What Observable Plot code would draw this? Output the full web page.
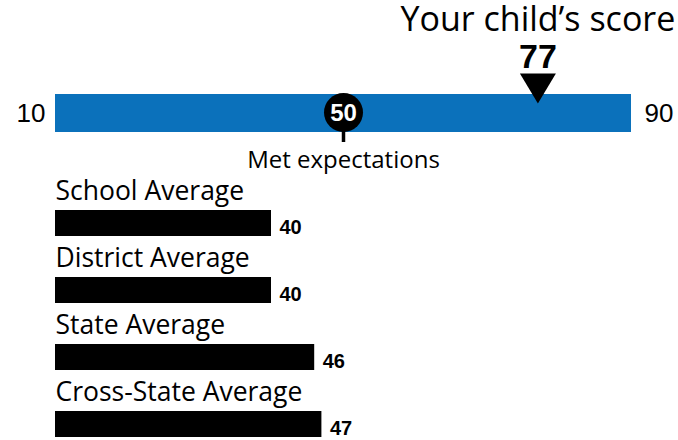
<!DOCTYPE html>
<html>
<head>
<meta charset="utf-8">
<script src="https://cdn.jsdelivr.net/npm/d3@7"></script>
<script src="https://cdn.jsdelivr.net/npm/@observablehq/plot@0.6"></script>
<style>
  html, body { margin: 0; padding: 0; background: #fff; }
  #chart svg { display: block; overflow: visible; }
</style>
</head>
<body>
<div id="chart"></div>
<script>
const scoreMin = 10;
const scoreMax = 90;
const childScore = 77;
const childLabel = "Your child’s score";
const expectationScore = 50;
const expectationLabel = "Met expectations";
const groups = ["School Average", "District Average", "State Average", "Cross-State Average"];
const averages = [40, 40, 46, 47];

const rows = groups.map((g, i) => ({group: g, value: averages[i]}));
const sans = "'Open Sans', sans-serif";
const arial = "'Liberation Sans', Arial, sans-serif";

const downTriangle = {
  draw(context, size) {
    const r = Math.sqrt(size / Math.PI);
    const hw = r * 1.2;
    context.moveTo(-hw, -r);
    context.lineTo(hw, -r);
    context.lineTo(0, r);
    context.closePath();
  }
};

const scorePlot = Plot.plot({
  width: 678, height: 178,
  marginTop: 94, marginBottom: 46, marginLeft: 55, marginRight: 47,
  x: {domain: [scoreMin, scoreMax], axis: null},
  style: {fontFamily: sans, background: "white", color: "black", overflow: "visible"},
  marks: [
    Plot.barX([{x1: scoreMin, x2: scoreMax}], {x1: "x1", x2: "x2", fill: "#0b71bb"}),
    Plot.text([scoreMin], {x: d => d, text: d => String(d), frameAnchor: "middle", textAnchor: "end", dx: -10, fontSize: 26, fontFamily: arial}),
    Plot.text([scoreMax], {x: d => d, text: d => String(d), frameAnchor: "middle", textAnchor: "start", dx: 13, fontSize: 26, fontFamily: arial}),
    Plot.ruleX([expectationScore], {x: d => d, insetTop: 36, insetBottom: -10, stroke: "black", strokeWidth: 3.5}),
    Plot.dot([expectationScore], {x: d => d, frameAnchor: "middle", dy: -1, r: 19.5, fill: "black", stroke: "none"}),
    Plot.text([expectationScore], {x: d => d, text: d => String(d), frameAnchor: "middle", dy: -0.5, fill: "white", fontWeight: "bold", fontSize: 24, fontFamily: arial}),
    Plot.text([expectationScore], {x: d => d, text: () => expectationLabel, frameAnchor: "bottom", lineAnchor: "bottom", dy: 35, fontSize: 24}),
    Plot.dot([childScore], {x: d => d, frameAnchor: "top", dy: -6, symbol: downTriangle, r: 15, fill: "black", stroke: "none"}),
    Plot.text([childScore], {x: d => d, text: d => String(d), frameAnchor: "top", lineAnchor: "bottom", dy: -27, fontSize: 34, fontWeight: "bold", fontFamily: arial}),
    Plot.text([childScore], {x: d => d, text: () => childLabel, frameAnchor: "top", lineAnchor: "bottom", dy: -64, fontSize: 34})
  ]
});

const averagesPlot = Plot.plot({
  width: 678, height: 262,
  marginTop: 0, marginBottom: 0, marginLeft: 55, marginRight: 47,
  x: {domain: [scoreMin, scoreMax], axis: null},
  y: {domain: groups, range: [0, 268], axis: null, padding: 0},
  style: {fontFamily: sans, background: "white", color: "black", overflow: "visible"},
  marks: [
    Plot.barX(rows, {x1: scoreMin, x2: "value", y: "group", fill: "black", insetTop: 32, insetBottom: 9}),
    Plot.text(rows, {x: scoreMin, y: "group", text: "group", textAnchor: "start", lineAnchor: "bottom", dy: -12.5, fontSize: 26.5}),
    Plot.text(rows, {x: "value", y: "group", text: d => String(d.value), textAnchor: "start", dx: 8, lineAnchor: "bottom", dy: 21.5, fontSize: 20, fontWeight: "bold", fontFamily: arial})
  ]
});

document.getElementById("chart").append(scorePlot, averagesPlot);
</script>
</body>
</html>
